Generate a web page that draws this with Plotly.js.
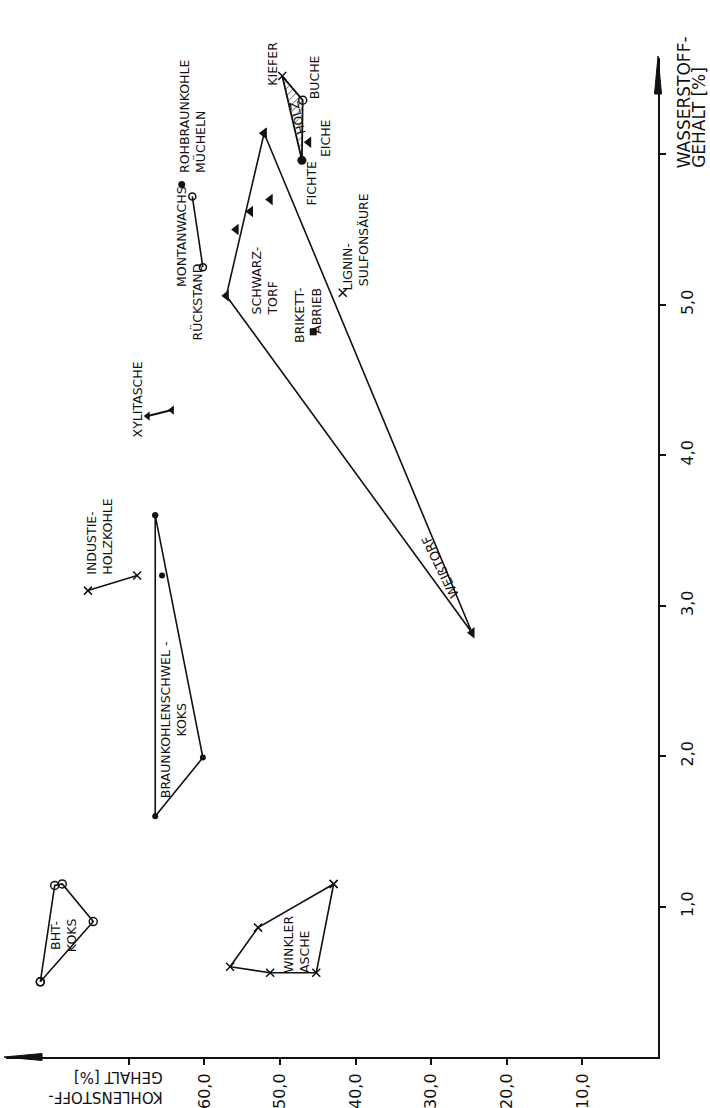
<!DOCTYPE html>
<html><head><meta charset="utf-8">
<script src="https://cdn.plot.ly/plotly-3.0.1.min.js"></script>
<style>html,body{margin:0;padding:0;background:#fff}</style>
</head><body><div id="chart" style="width:710px;height:1108px"></div>
<script>
// ---- data (C = Kohlenstoff-Gehalt %, H = Wasserstoff-Gehalt %) ----
const bhtC = [81.7, 79.8, 78.8, 74.7];
const bhtH = [0.50, 1.14, 1.15, 0.90];
const winklerC = [42.9, 52.9, 56.6, 51.3, 45.2];
const winklerH = [1.15, 0.86, 0.60, 0.56, 0.56];
const schwelkoksC = [66.5, 60.2, 66.5];
const schwelkoksH = [3.60, 1.99, 1.60];
const schwelkoksInnerC = [65.6];
const schwelkoksInnerH = [3.20];
const holzkohleC = [75.4, 68.9];
const holzkohleH = [3.10, 3.20];
const xylitC = [67.5, 64.3];
const xylitH = [4.26, 4.30];
const montanC = [61.6, 60.2];
const montanH = [5.72, 5.25];
const rohbraunC = [63.0];
const rohbraunH = [5.80];
const torfC = [52.1, 24.6, 57.1];
const torfH = [6.14, 2.82, 5.06];
const schwarztorfC = [55.8, 53.9, 51.3];
const schwarztorfH = [5.50, 5.62, 5.70];
const holzPolyC = [49.7, 47.0, 47.1];
const holzPolyH = [6.52, 6.36, 5.96];
const kieferC = [49.7], kieferH = [6.52];
const bucheC = [47.0], bucheH = [6.36];
const eicheC = [46.2], eicheH = [6.08];
const fichteC = [47.1], fichteH = [5.96];
const brikettC = [45.6], brikettH = [4.82];
const ligninC = [41.7], ligninH = [5.08];

const cTickVals = [10, 20, 30, 40, 50, 60, 70];
const cTickText = ['10,0', '20,0', '30,0', '40,0', '50,0', '60,0', ''];
const hTickVals = [1, 2, 3, 4, 5, 6];
const hTickText = ['1,0', '2,0', '3,0', '4,0', '5,0', ''];

const labelText = ['BHT-<br>KOKS', 'WINKLER<br>ASCHE', 'BRAUNKOHLENSCHWEL -<br>KOKS', 'INDUSTIE-<br>HOLZKOHLE',
  'XYLITASCHE', 'MONTANWACHS-', 'RÜCKSTAND', 'ROHBRAUNKOHLE<br>MÜCHELN', 'SCHWARZ-<br>TORF',
  'BRIKETT-', 'ABRIEB', 'LIGNIN-', 'SULFONSÄURE', 'KIEFER', 'BUCHE', 'EICHE', 'FICHTE'];
const labelC = [78.7, 47.9, 64.0, 73.9, 68.8, 63.1, 61.0, 61.6, 52.0, 47.4, 45.1, 41.1, 39.0, 51.1, 45.4, 44.0, 45.8];
const labelH = [0.81, 0.75, 2.24, 3.46, 4.37, 5.47, 5.02, 6.25, 5.16, 4.93, 4.96, 5.25, 5.43, 6.60, 6.51, 6.11, 5.81];
const labelAlign = ['center', 'left', 'center', 'left', 'center', 'center', 'center', 'left', 'left',
  'center', 'center', 'center', 'center', 'center', 'center', 'center', 'center'];
const slantText = ['HOLZ', 'WEIßTORF'];
const slantC = [47.6, 28.8];
const slantH = [6.24, 3.26];
const hTitleLines = ['WASSERSTOFF-', 'GEHALT [%]'];

// ---- drawing ----
const FONT = 'DejaVu Sans, sans-serif';
const K = '#111';
const M = {l: 6, r: 52, t: 58, b: 51};
const W = 710, Hh = 1108;
const pw = W - M.l - M.r, ph = Hh - M.t - M.b;
function closed(a) { return a.concat([a[0]]); }
function mk(symbol, size, filled) {
  return filled ? {symbol: symbol, size: size, color: K, line: {width: 0}}
                : {symbol: symbol, size: size, color: K, line: {width: 1.5, color: K}};
}
const traces = [
  {x: closed(bhtC), y: closed(bhtH), mode: 'lines+markers', line: {color: K, width: 1.6}, marker: mk('circle-open', 8, false)},
  {x: closed(winklerC), y: closed(winklerH), mode: 'lines+markers', line: {color: K, width: 1.6}, marker: mk('x-thin', 8, false)},
  {x: closed(schwelkoksC), y: closed(schwelkoksH), mode: 'lines+markers', line: {color: K, width: 1.6}, marker: mk('circle', 6, true)},
  {x: schwelkoksInnerC, y: schwelkoksInnerH, mode: 'markers', marker: mk('circle', 6, true)},
  {x: holzkohleC, y: holzkohleH, mode: 'lines+markers', line: {color: K, width: 1.6}, marker: mk('x-thin', 8, false)},
  {x: xylitC, y: xylitH, mode: 'lines+markers', line: {color: K, width: 2}, marker: mk('triangle-left', 8, true)},
  {x: montanC, y: montanH, mode: 'lines+markers', line: {color: K, width: 1.6}, marker: mk('circle-open', 7, false)},
  {x: rohbraunC, y: rohbraunH, mode: 'markers', marker: mk('circle', 7, true)},
  {x: closed(torfC), y: closed(torfH), mode: 'lines+markers', line: {color: K, width: 1.6}, marker: mk('triangle-left', 10, true)},
  {x: schwarztorfC, y: schwarztorfH, mode: 'markers', marker: mk('triangle-left', 10, true)},
  {x: closed(holzPolyC), y: closed(holzPolyH), mode: 'lines', fill: 'toself', fillcolor: 'rgba(0,0,0,0)',
   fillpattern: {shape: '/', size: 5, solidity: 0.15, fgcolor: '#333', bgcolor: 'rgba(0,0,0,0)'}, line: {color: K, width: 1.8}},
  {x: kieferC, y: kieferH, mode: 'markers', marker: mk('x-thin', 8, false)},
  {x: bucheC, y: bucheH, mode: 'markers', marker: mk('circle-open', 8, false)},
  {x: eicheC, y: eicheH, mode: 'markers', marker: mk('triangle-left', 10, true)},
  {x: fichteC, y: fichteH, mode: 'markers', marker: mk('circle', 9, true)},
  {x: brikettC, y: brikettH, mode: 'markers', marker: mk('square', 7, true)},
  {x: ligninC, y: ligninH, mode: 'markers', marker: mk('x-thin', 8, false)}
];
traces.forEach(t => { t.showlegend = false; t.hoverinfo = 'skip'; t.cliponaxis = false; });

const ann = labelText.map((t, i) => ({
  x: labelC[i], y: labelH[i], xref: 'x', yref: 'y', text: t, showarrow: false, textangle: -90,
  align: labelAlign[i], xanchor: 'center', yanchor: 'middle', font: {family: FONT, size: 12.5, color: K}
}));
slantText.forEach((t, i) => ann.push({
  x: slantC[i], y: slantH[i], xref: 'x', yref: 'y', text: t, showarrow: false,
  textangle: i === 0 ? -104 : -116, font: {family: FONT, size: i === 0 ? 12 : 13, color: K}
}));
ann.push({x: 73.1, y: -0.03, xref: 'x', yref: 'paper', text: 'KOHLENSTOFF-<br>GEHALT [%]', showarrow: false,
  textangle: 180, align: 'left', xanchor: 'center', yanchor: 'middle', font: {family: FONT, size: 15, color: K}});
hTitleLines.forEach((t, i) => ann.push({
  x: (684 + 15 * i - M.l) / pw, y: 5.90, xref: 'paper', yref: 'y', text: t, showarrow: false,
  textangle: -90, xanchor: 'center', yanchor: 'bottom', borderpad: 0,
  font: {family: FONT, size: 17, color: K}}));

// arrow heads at the ends of both axes (paper coordinates)
const aL = 36, aW = 3.5;
const shapes = [
  {type: 'path', xref: 'paper', yref: 'paper', layer: 'above',
   path: `M ${1 - aW / pw} ${1 - aL / ph} L 1 ${1 + 2 / ph} L ${1 + aW / pw} ${1 - aL / ph} Z`,
   fillcolor: K, line: {color: K, width: 1}},
  {type: 'path', xref: 'paper', yref: 'paper', layer: 'above',
   path: `M ${aL / pw} ${aW / ph} L ${-2 / pw} 0 L ${aL / pw} ${-aW / ph} Z`,
   fillcolor: K, line: {color: K, width: 1}}
];

const layout = {
  width: W, height: Hh,
  margin: M,
  paper_bgcolor: '#fff', plot_bgcolor: '#fff',
  showlegend: false,
  xaxis: {range: [86.24, 0], showgrid: false, zeroline: false, showline: true, linewidth: 2, linecolor: K,
    ticks: 'outside', ticklen: 6, tickwidth: 2, tickcolor: K, tickvals: cTickVals, ticktext: cTickText,
    tickangle: -90, tickfont: {family: FONT, size: 16, color: K}, ticklabelstandoff: 2},
  yaxis: {range: [0, 6.64], side: 'right', showgrid: false, zeroline: false, showline: true, linewidth: 2, linecolor: K,
    ticks: 'outside', ticklen: 6, tickwidth: 2, tickcolor: K, tickvals: hTickVals, ticktext: hTickText,
    tickangle: -90, tickfont: {family: FONT, size: 16, color: K}, ticklabelstandoff: 8},
  annotations: ann,
  shapes: shapes
};
Plotly.newPlot('chart', traces, layout, {staticPlot: true, displayModeBar: false});
</script></body></html>
